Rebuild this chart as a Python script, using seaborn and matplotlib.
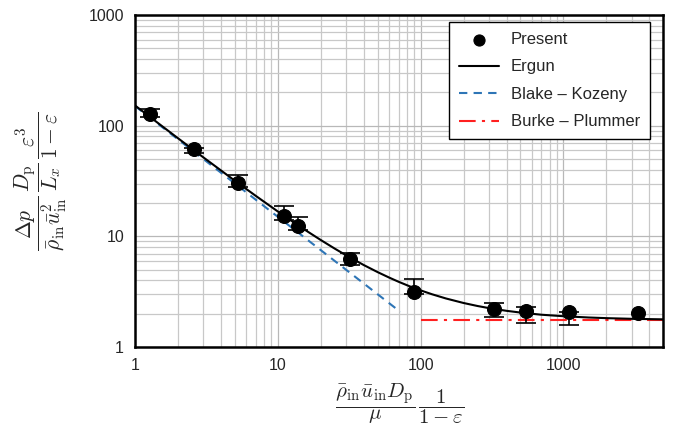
import numpy as np
import pandas as pd
import matplotlib
matplotlib.use('Agg')
import matplotlib.pyplot as plt
import seaborn as sns

sns.set_style('white')
plt.rcParams['font.family'] = ['Liberation Sans', 'DejaVu Sans']
plt.rcParams['mathtext.fontset'] = 'cm'

re_present = [1.27, 2.59, 5.25, 11.0, 13.8, 31.9, 89.4, 324, 543, 1100, 3345]
f_present = [128, 61.5, 30.3, 15.3, 12.4, 6.24, 3.14, 2.2, 2.11, 2.07, 2.03]
f_upper = [141, 62.3, 35.9, 18.9, 15.0, 7.1, 4.09, 2.51, 2.31, 2.08, 2.03]
f_lower = [120, 57.0, 28.1, 14.0, 11.4, 5.5, 3.01, 1.88, 1.66, 1.58, 2.03]

# Ergun curve samples
re_ergun = [1, 1.5, 2, 3, 5, 7, 10, 13, 16, 20, 25, 30, 40, 50, 60, 70, 85, 100,
            120, 150, 200, 250, 300, 400, 500, 700, 1000, 1500, 2000, 3000, 5000]
f_ergun = [151.75, 101.75, 76.75, 51.75, 31.75, 23.2, 16.75, 13.29, 11.13, 9.25,
           7.75, 6.75, 5.5, 4.75, 4.25, 3.89, 3.51, 3.25, 3.0, 2.75, 2.5, 2.35,
           2.25, 2.125, 2.05, 1.96, 1.9, 1.85, 1.825, 1.8, 1.78]

# Blake-Kozeny and Burke-Plummer limits
re_bk = [1, 72]
f_bk = [150, 2.08]
re_bp = [100, 5000]
f_bp = [1.75, 1.75]

present = pd.DataFrame({'re': re_present, 'f': f_present})

fig = plt.figure(figsize=(6.83, 4.41), dpi=100)
ax = fig.add_axes([0.198, 0.213, 0.773, 0.753])

ax.set_xscale('log')
ax.set_yscale('log')

# last point has no visible error bar
lo = np.array(f_present[:-1]) - np.array(f_lower[:-1])
hi = np.array(f_upper[:-1]) - np.array(f_present[:-1])
ax.errorbar(re_present[:-1], f_present[:-1], yerr=[lo, hi], fmt='none', ecolor='black',
            elinewidth=1.2, capsize=7, capthick=1.2, zorder=4)
sns.scatterplot(data=present, x='re', y='f', ax=ax, color='black', s=100,
                edgecolor='black', zorder=5, label='Present')
sns.lineplot(x=re_ergun, y=f_ergun, ax=ax, color='black', lw=1.5, label='Ergun', zorder=3)
sns.lineplot(x=re_bk, y=f_bk, ax=ax, color='#2e75b6', lw=1.5, linestyle=(0, (4, 3)),
             label='Blake – Kozeny', zorder=2)
sns.lineplot(x=re_bp, y=f_bp, ax=ax, color='#ff2020', lw=1.5, linestyle=(0, (8, 3, 1.5, 3)),
             label='Burke – Plummer', zorder=2)

ax.set_xlim(1, 5000)
ax.set_ylim(1, 1000)
ax.set_xticks([1, 10, 100, 1000])
ax.set_xticklabels(['1', '10', '100', '1000'])
ax.set_yticks([1, 10, 100, 1000])
ax.set_yticklabels(['1', '10', '100', '1000'])
ax.tick_params(axis='both', which='both', length=0, labelsize=11.5, pad=8)

ax.grid(True, which='major', color='#b8b8b8', lw=0.9)
ax.grid(True, which='minor', color='#c8c8c8', lw=0.9)
ax.set_axisbelow(True)
for s in ax.spines.values():
    s.set_color('black')
    s.set_linewidth(1.8)

ax.set_xlabel(r'$\dfrac{\bar{\rho}_{\rm in}\bar{u}_{\rm in}D_{\rm p}}{\mu}\,\dfrac{1}{1-\varepsilon}$',
              fontsize=15, labelpad=6)
ax.set_ylabel(r'$\dfrac{\Delta p}{\bar{\rho}_{\rm in}\bar{u}_{\rm in}^2}\,\dfrac{D_{\rm p}}{L_x}\,\dfrac{\varepsilon^3}{1-\varepsilon}$',
              fontsize=15.5, labelpad=14)

leg = ax.legend(loc='upper right', bbox_to_anchor=(0.975, 0.979), borderaxespad=0,
                fontsize=12, frameon=True, fancybox=False, edgecolor='black',
                framealpha=1, handlelength=2.4, handletextpad=0.7, borderpad=0.6,
                labelspacing=0.75, markerscale=0.8)
leg.get_frame().set_linewidth(1.0)

fig.savefig('out.png', dpi=100)
